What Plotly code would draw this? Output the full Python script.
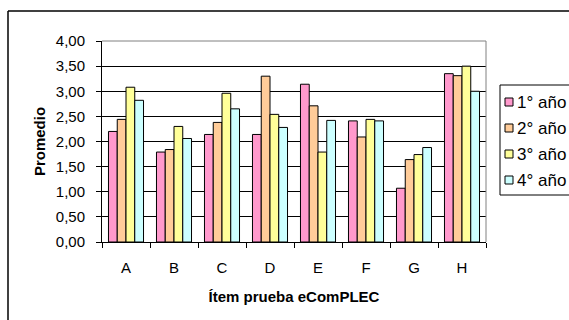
import plotly.graph_objects as go

categories = ["A", "B", "C", "D", "E", "F", "G", "H"]
series_names = ["1° año", "2° año", "3° año", "4° año"]
year1 = [2.20, 1.79, 2.14, 2.14, 3.14, 2.41, 1.07, 3.35]
year2 = [2.44, 1.84, 2.38, 3.30, 2.71, 2.09, 1.64, 3.31]
year3 = [3.08, 2.30, 2.96, 2.54, 1.79, 2.44, 1.74, 3.50]
year4 = [2.82, 2.06, 2.65, 2.28, 2.42, 2.41, 1.88, 3.00]
y_ticks = [0, 0.5, 1.0, 1.5, 2.0, 2.5, 3.0, 3.5, 4.0]

colors = ["#FF99CC", "#FFCC99", "#FFFF99", "#CCFFFF"]
font_family = "Liberation Sans, Arial, sans-serif"

fig = go.Figure()
for name, vals, col in zip(series_names, [year1, year2, year3, year4], colors):
    fig.add_trace(go.Bar(
        x=categories, y=vals, name=name, showlegend=False,
        marker=dict(color=col, line=dict(color="black", width=1)),
    ))

W, H = 569, 320
L, R, T, B = 102, 83, 41, 78
pw, ph = W - L - R, H - T - B

def px(x):
    return (x - L) / pw

def py(y):
    return (H - B - y) / ph

shapes = [
    # outer chart frame (left and top edges, running off the page)
    dict(type="line", xref="paper", yref="paper",
         x0=px(8), x1=px(8), y0=py(11), y1=py(700),
         line=dict(color="black", width=1.5)),
    dict(type="line", xref="paper", yref="paper",
         x0=px(8), x1=px(1000), y0=py(11), y1=py(11),
         line=dict(color="black", width=1.5)),
    # plot area border on the right and top
    dict(type="line", xref="paper", yref="paper",
         x0=1, x1=1, y0=0, y1=1, line=dict(color="#808080", width=1)),
    dict(type="line", xref="paper", yref="paper",
         x0=0, x1=1, y0=1, y1=1, line=dict(color="#808080", width=1)),
    # legend box
    dict(type="rect", xref="paper", yref="paper",
         x0=px(500), x1=px(1000), y0=py(195), y1=py(85),
         line=dict(color="black", width=1), fillcolor="white"),
]
annotations = []
legend_rows = [102, 128, 154, 180]
for name, col, yc in zip(series_names, colors, legend_rows):
    shapes.append(dict(type="rect", xref="paper", yref="paper",
                       x0=px(505), x1=px(513), y0=py(yc + 4), y1=py(yc - 4),
                       line=dict(color="black", width=1), fillcolor=col))
    annotations.append(dict(xref="paper", yref="paper", x=px(515), y=py(yc),
                            xanchor="left", yanchor="middle", text=name,
                            showarrow=False, font=dict(size=17, family=font_family)))

fig.update_layout(
    width=W, height=H,
    margin=dict(l=L, r=R, t=T, b=B, pad=0),
    paper_bgcolor="white", plot_bgcolor="white",
    separators=",.",
    barmode="group", bargap=0.27, bargroupgap=0,
    font=dict(family=font_family, size=15, color="black"),
    showlegend=False,
    xaxis=dict(
        showline=True, linecolor="black", linewidth=1,
        ticks="outside", ticklen=5, tickcolor="black",
        tickson="boundaries", showgrid=False,
        tickfont=dict(size=15), ticklabelstandoff=12,
        title=dict(text="<b>Ítem prueba eComPLEC</b>", font=dict(size=15), standoff=16),
        automargin=False,
    ),
    yaxis=dict(
        range=[0, 4], tickvals=y_ticks, tickformat=".2f",
        showline=True, linecolor="black", linewidth=1,
        ticks="outside", ticklen=5, tickcolor="black",
        showgrid=True, gridcolor="black", gridwidth=1,
        tickfont=dict(size=15), ticklabelstandoff=8,
        title=dict(text="<b>Promedio</b>", font=dict(size=15), standoff=6),
        zeroline=False, automargin=False,
    ),
    shapes=shapes,
    annotations=annotations,
)

fig.write_html("out.html")
